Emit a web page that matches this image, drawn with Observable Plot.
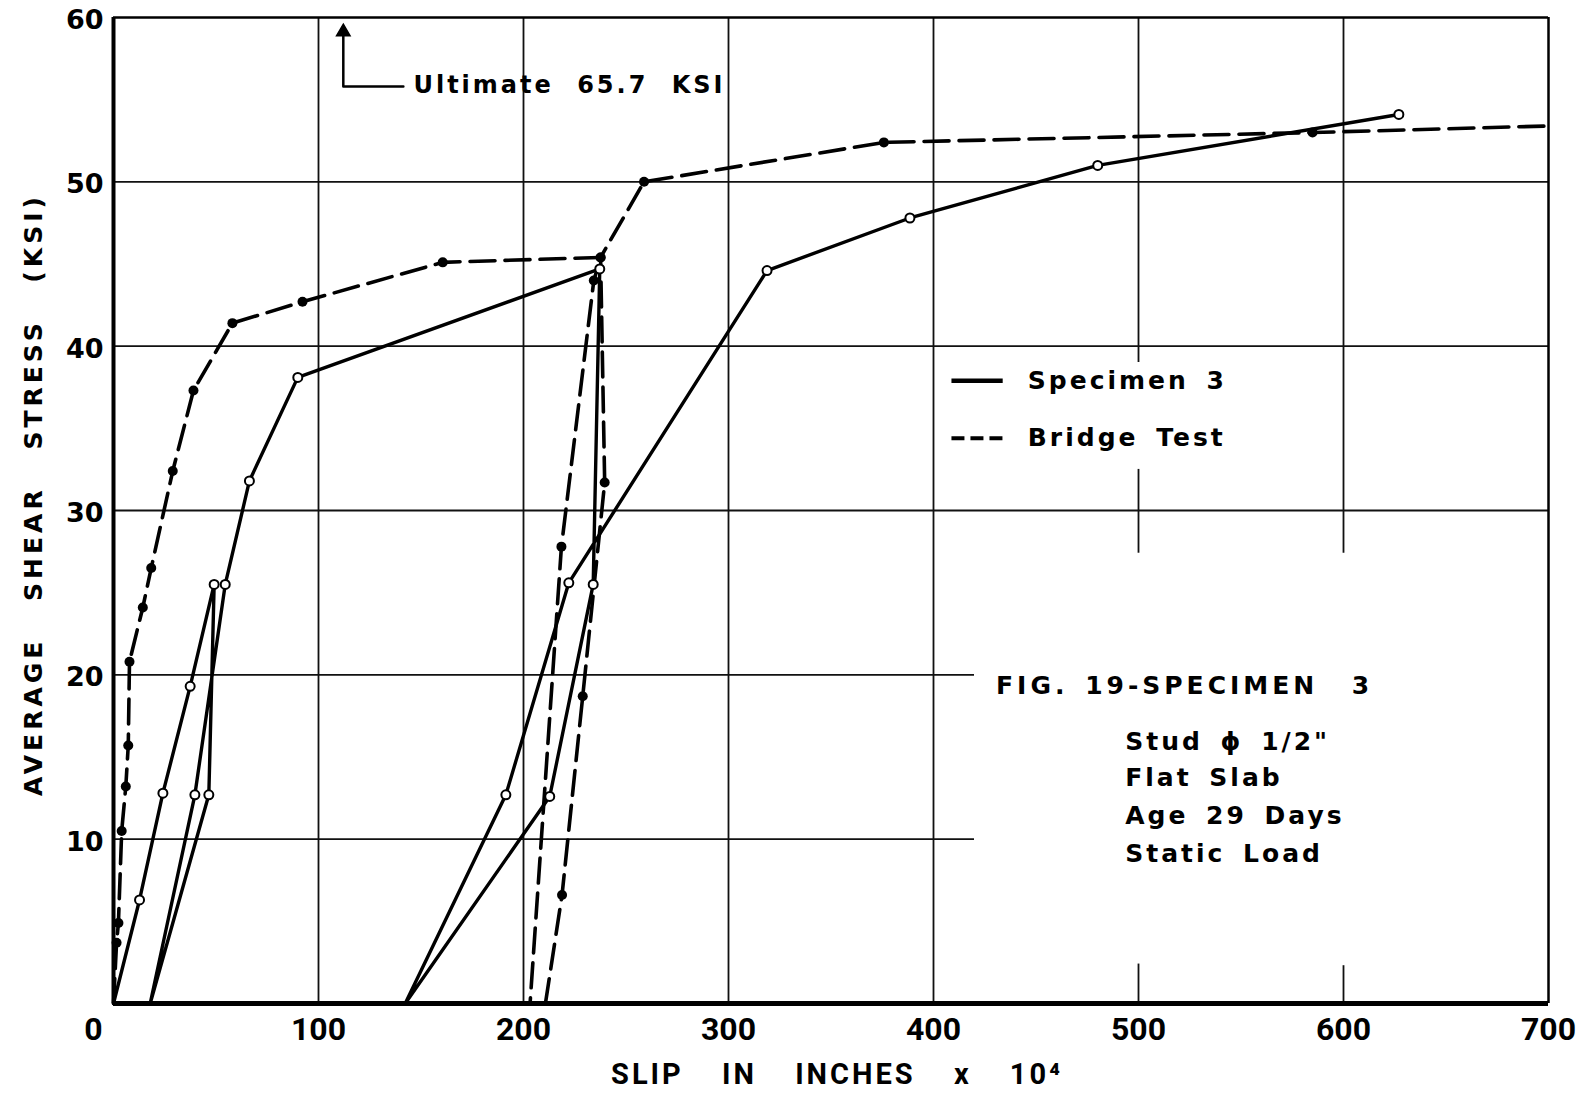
<!DOCTYPE html>
<html>
<head>
<meta charset="utf-8">
<script src="https://cdn.jsdelivr.net/npm/d3@7"></script>
<script src="https://cdn.jsdelivr.net/npm/@observablehq/plot@0.6"></script>
<style>
  html, body { margin: 0; padding: 0; background: #fff; }
  #chart svg { display: block; }
</style>
</head>
<body>
<div id="chart"></div>
<script>
// ---------- data ----------
// Specimen 3 (solid line, open circles), slip in inches x 10^4, stress in KSI
const specSlip   = [0, 12.7, 24.1, 37.4, 49.1, 46.5, 17.9, 39.7, 54.5, 66.3, 89.9, 237.2, 234.0, 212.8, 142.3, 191.4, 222.1, 318.8, 388.5, 480.1, 627.0];
const specStress = [0, 6.3, 12.8, 19.3, 25.5, 12.7, 0, 12.7, 25.5, 31.8, 38.1, 44.7, 25.5, 12.6, 0, 12.7, 25.6, 44.6, 47.8, 51.0, 54.1];

// Bridge Test (dashed line, filled dots), two drawn runs
const bridgeRun    = [1, 1, 1, 1, 1, 1, 1, 1, 1, 1, 1, 1, 1, 1, 1, 1, 1, 1,
                      2, 2, 2, 2, 2, 2, 2, 2, 2];
const bridgeSlip   = [0, 1.5, 2.4, 4.0, 6.0, 7.2, 7.8, 14.3, 18.4, 28.9, 39.0, 58.0, 92.2, 160.6, 237.6, 234.3, 218.5, 203.2,
                      210.7, 218.8, 228.9, 239.6, 237.6, 258.8, 375.8, 584.9, 700];
const bridgeStress = [0, 3.7, 4.9, 10.5, 13.2, 15.7, 20.8, 24.1, 26.5, 32.4, 37.3, 41.4, 42.7, 45.1, 45.4, 44.0, 27.8, 0,
                      0, 6.6, 18.7, 31.7, 45.4, 50.0, 52.4, 53.0, 53.4];
const bridgeDotted = [0, 1, 1, 1, 1, 1, 1, 1, 1, 1, 1, 1, 1, 1, 1, 1, 1, 0,
                      0, 1, 1, 1, 1, 1, 1, 1, 0];

// axes
const xTicks = [0, 100, 200, 300, 400, 500, 600, 700];
const yTicks = [10, 20, 30, 40, 50, 60];
const xLabel = "SLIP IN INCHES x 10\u2074";
const yLabel = "AVERAGE SHEAR STRESS (KSI)";

// grid segments (the printed grid is interrupted around the notes)
const gridXAt   = [100, 200, 300, 400, 500, 500, 500, 600, 600];
const gridXFrom = [0, 0, 0, 0, 0, 27.4, 39.0, 0, 27.4];
const gridXTo   = [60, 60, 60, 60, 2.4, 32.5, 60, 2.3, 60];
const gridYAt   = [10, 20, 30, 40, 50];
const gridYFrom = [0, 0, 0, 0, 0];
const gridYTo   = [420, 420, 700, 700, 700];

// legend & notes
const legendNames = ["Specimen 3", "Bridge Test"];
const legendY = [37.9, 34.4];
const legendX1 = 409, legendX2 = 434, legendTextX = 446;
const noteLines = ["Stud \u03D5 1/2\"", "Flat Slab", "Age 29 Days", "Static Load"];
const noteY = [15.9, 13.7, 11.4, 9.1];
const noteX = 493.5;
const figTitle = "FIG. 19-SPECIMEN  3";
const figTitleX = 430.5, figTitleY = 19.3;
const ultimateText = "Ultimate 65.7 KSI";
const ultimateX = [141.4, 112.1, 112.1];
const ultimateY = [55.8, 55.8, 59.0];
const ultimateTextX = 146.3, ultimateTextY = 55.9;

// ---------- build tables ----------
const spec = specSlip.map((x, i) => ({x, y: specStress[i]}));
const bridge = bridgeSlip.map((x, i) => ({x, y: bridgeStress[i], run: bridgeRun[i], dot: bridgeDotted[i]}));
const gridX = gridXAt.map((x, i) => ({x, y1: gridXFrom[i], y2: gridXTo[i]}));
const gridY = gridYAt.map((y, i) => ({y, x1: gridYFrom[i], x2: gridYTo[i]}));
const legend = legendNames.map((name, i) => ({name, y: legendY[i], dash: i === 1}));
const notes = noteLines.map((t, i) => ({t, y: noteY[i]}));
const ultimatePath = ultimateX.map((x, i) => ({x, y: ultimateY[i]}));

const F = "'DejaVu Sans', Verdana, sans-serif";
const FC = "Roboto, 'DejaVu Sans', sans-serif";

const chart = Plot.plot({
  width: 1581,
  height: 1096,
  marginLeft: 113,
  marginRight: 33,
  marginTop: 17,
  marginBottom: 93,
  x: {domain: [0, 700], axis: null},
  y: {domain: [0, 60], axis: null},
  style: {background: "#fff", color: "#000", fontFamily: F},
  marks: [
    // grid
    Plot.ruleX(gridX, {x: "x", y1: "y1", y2: "y2", stroke: "#111", strokeWidth: 1.8}),
    Plot.ruleY(gridY, {y: "y", x1: "x1", x2: "x2", stroke: "#111", strokeWidth: 1.8}),
    // frame
    Plot.ruleY([60], {stroke: "#000", strokeWidth: 2.5}),
    Plot.ruleX([700], {stroke: "#000", strokeWidth: 2.5}),
    Plot.ruleX([0], {stroke: "#000", strokeWidth: 4}),
    Plot.ruleY([0], {stroke: "#000", strokeWidth: 5}),
    // series
    Plot.line(bridge, {x: "x", y: "y", z: "run", stroke: "#000", strokeWidth: 3.6, strokeDasharray: "25,10", strokeLinejoin: "round"}),
    Plot.line(spec, {x: "x", y: "y", stroke: "#000", strokeWidth: 3.4, strokeLinejoin: "round"}),
    Plot.dot(bridge.filter(d => d.dot), {x: "x", y: "y", r: 5, fill: "#000", stroke: "none"}),
    Plot.dot(spec.filter(d => d.y > 0), {x: "x", y: "y", r: 4.5, fill: "#fff", stroke: "#000", strokeWidth: 2}),
    // tick labels
    Plot.text(xTicks.filter(d => d > 0), {x: d => d, y: 0, text: d => String(d), dy: 26, fontSize: 32, fontWeight: "bold", fontFamily: FC}),
    Plot.text(xTicks.filter(d => d === 0), {x: d => d, y: 0, text: d => String(d), dy: 26, dx: -20, fontSize: 32, fontWeight: "bold", fontFamily: FC}),
    Plot.text(yTicks, {x: 0, y: d => d, text: d => String(d), dx: -10, dy: 3, textAnchor: "end", fontSize: 27, fontWeight: "bold", fontFamily: F}),
    // axis titles
    Plot.text([xLabel], {frameAnchor: "bottom", text: d => d, dy: 71, dx: 6, textAnchor: "middle", lineAnchor: "middle", fontSize: 29, fontWeight: "bold", fontFamily: FC}),
    Plot.text([yLabel], {frameAnchor: "left", text: d => d, dx: -80, dy: -16, textAnchor: "middle", lineAnchor: "middle", rotate: -90, fontSize: 25, fontWeight: "bold", fontFamily: F}),
    // legend
    Plot.ruleY(legend.filter(d => !d.dash), {y: "y", x1: legendX1, x2: legendX2, stroke: "#000", strokeWidth: 4.5}),
    Plot.ruleY(legend.filter(d => d.dash), {y: "y", x1: legendX1, x2: legendX2, stroke: "#000", strokeWidth: 4, strokeDasharray: "13,6"}),
    Plot.text(legend, {x: legendTextX, y: "y", text: "name", textAnchor: "start", fontSize: 25, fontWeight: "bold"}),
    // notes
    Plot.text([figTitle], {x: figTitleX, y: figTitleY, text: d => d, textAnchor: "start", fontSize: 25, fontWeight: "bold"}),
    Plot.text(notes, {x: noteX, y: "y", text: "t", textAnchor: "start", fontSize: 25, fontWeight: "bold"}),
    // ultimate annotation
    Plot.line(ultimatePath, {x: "x", y: "y", stroke: "#000", strokeWidth: 2.5}),
    Plot.dot([ultimatePath[2]], {x: "x", y: "y", symbol: "triangle", r: 5, fill: "#000", stroke: "#000", dy: -2}),
    Plot.text([ultimateText], {x: ultimateTextX, y: ultimateTextY, text: d => d, textAnchor: "start", fontSize: 24, fontWeight: "bold"})
  ]
});

document.getElementById("chart").appendChild(chart);

// letter spacing like the hand lettering
const svg = d3.select(chart);
svg.selectAll("text").each(function() {
  const t = this.textContent;
  const s = d3.select(this);
  if (legendNames.includes(t)) {
    s.style("letter-spacing", "3px").style("word-spacing", "6px");
  } else if (noteLines.includes(t)) {
    s.style("letter-spacing", "3px").style("word-spacing", "6px");
  } else if (t === figTitle) {
    s.style("letter-spacing", "4px").style("word-spacing", "4px").style("white-space", "pre");
  } else if (t === ultimateText) {
    s.style("letter-spacing", "3px").style("word-spacing", "12px");
  } else if (t === yLabel) {
    s.style("letter-spacing", "4px").style("word-spacing", "24px");
  } else if (t === xLabel) {
    s.style("letter-spacing", "3px").style("word-spacing", "28px");
  }
});
</script>
</body>
</html>
